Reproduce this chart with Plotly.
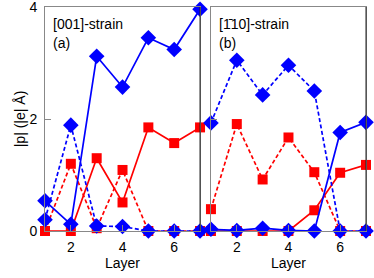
import plotly.graph_objects as go
from plotly.subplots import make_subplots

layers = [1, 2, 3, 4, 5, 6, 7]

# panel (a) [001]-strain
a_blue_solid = [0.54, 0.12, 3.12, 2.57, 3.45, 3.24, 3.96]
a_blue_dash = [0.20, 1.89, 0.09, 0.08, 0.0, 0.0, 0.0]
a_red_solid = [0.0, 0.0, 1.30, 0.51, 1.85, 1.57, 1.85]
a_red_dash = [0.0, 1.20, 0.05, 1.09, 0.0, 0.0, 0.0]

# panel (b) [-110]-strain
b_blue_solid = [0.03, 0.01, 0.05, 0.01, 0.0, 1.76, 1.94]
b_blue_dash = [1.93, 3.05, 2.43, 2.96, 2.50, 0.0, 0.0]
b_red_solid = [0.0, 0.0, 0.0, 0.0, 0.37, 1.04, 1.18]
b_red_dash = [0.39, 1.91, 0.92, 1.67, 1.05, 0.0, 0.0]

xticks = [2, 4, 6]
yticks = [0, 2, 4]

BLUE = "#0000ff"
RED = "#ff0000"

fig = make_subplots(rows=1, cols=2, shared_yaxes=True, horizontal_spacing=0.034)

def add(col, y, color, dash, symbol, size):
    fig.add_trace(go.Scatter(
        x=layers, y=y, mode="lines+markers",
        line=dict(color=color, width=1.7, dash=dash),
        marker=dict(color=color, symbol=symbol, size=size),
        cliponaxis=False, showlegend=False), row=1, col=col)

DASH = "4px,2.5px"
for col, rs, rd, bs, bd in [(1, a_red_solid, a_red_dash, a_blue_solid, a_blue_dash),
                            (2, b_red_solid, b_red_dash, b_blue_solid, b_blue_dash)]:
    add(col, rd, RED, DASH, "square", 10)
    add(col, rs, RED, "solid", "square", 10)
    add(col, bd, BLUE, DASH, "diamond", 12)
    add(col, bs, BLUE, "solid", "diamond", 12)

font = dict(family="Liberation Sans, Arial, sans-serif", size=14, color="black")
axcommon = dict(showline=True, linecolor="#888888", linewidth=1, mirror=True,
                showgrid=False, zeroline=False, ticks="inside", ticklen=6,
                tickcolor="#888888", tickfont=font, automargin=False,
                ticklabeloverflow="allow")

fig.update_xaxes(range=[1, 7], tickvals=xticks, ticklabelstandoff=3,
                 title=dict(text="Layer", font=font, standoff=1), **axcommon)
fig.update_yaxes(range=[0, 4.0001], tickvals=yticks, ticklabelstandoff=4, **axcommon)
fig.update_yaxes(title=dict(text="|p| (|e| Å)", font=font, standoff=0), row=1, col=1)
fig.update_yaxes(showticklabels=False, row=1, col=2)

for xr in ["x domain", "x2 domain"]:
    fig.add_shape(type="line", xref=xr, yref="y domain", x0=1, x1=1, y0=0, y1=1,
                  line=dict(color="#222222", width=1))

ann = [("x domain", "[001]-strain", 0.04, 0.97), ("x domain", "(a)", 0.04, 0.885),
       ("x2 domain", "[1̄10]-strain", 0.04, 0.97), ("x2 domain", "(b)", 0.04, 0.885)]
for xr, t, x, y in ann:
    fig.add_annotation(xref=xr, yref="y domain", x=x, y=y, text=t, showarrow=False,
                       xanchor="left", yanchor="top", font=font)

fig.update_layout(width=374, height=278, margin=dict(l=45, r=8, t=7, b=47),
                  plot_bgcolor="white", paper_bgcolor="white", font=font)

fig.write_html("out.html", config={"displayModeBar": False},
               post_script="document.body.style.margin='0';")
